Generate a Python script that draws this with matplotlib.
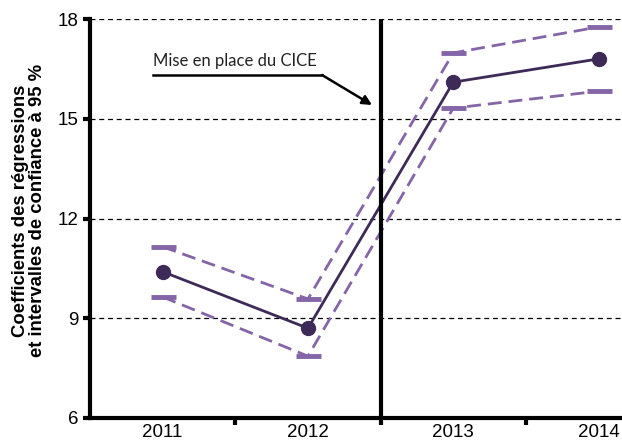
import matplotlib
matplotlib.use("Agg")
from matplotlib import pyplot as plt

# data
years = ["2011", "2012", "2013", "2014"]
coef = [10.4, 8.7, 16.1, 16.8]
ci_high = [11.15, 9.58, 16.98, 17.76]
ci_low = [9.64, 7.86, 15.32, 15.83]
cice_label = "Mise en place du CICE"

dark = "#3d2a57"
light = "#8466a8"

fig = plt.figure(figsize=(6.22, 4.46), dpi=100)
ax = fig.add_axes([90 / 622, 28 / 446, 532 / 622, 399 / 446])

x = list(range(len(years)))

# grid lines
for v in [9, 12, 15, 18]:
    ax.axhline(v, color="black", lw=0.9, ls=(0, (4, 3)), zorder=0)

# confidence intervals
ax.plot(x, ci_high, color=light, lw=2, ls=(0, (5, 2.5)), zorder=2)
ax.plot(x, ci_low, color=light, lw=2, ls=(0, (5, 2.5)), zorder=2)
ax.plot(x, ci_high, ls="none", marker="_", ms=18, mew=3.5, color=light, zorder=2)
ax.plot(x, ci_low, ls="none", marker="_", ms=18, mew=3.5, color=light, zorder=2)

# coefficients
ax.plot(x, coef, color=dark, lw=2, marker="o", ms=10, zorder=3)

# CICE line
ax.axvline(1.5, color="black", lw=3, zorder=4)

# callout
ax.text(153 / 622, (446 - 61) / 446, cice_label, transform=fig.transFigure,
        fontsize=12, family="Lato", color="#222222", ha="left", va="center")
ax.plot([153 / 622, 322 / 622], [(446 - 75) / 446] * 2, transform=fig.transFigure,
        color="black", lw=1.8, clip_on=False)
ax.annotate("", xy=(372 / 622, (446 - 105) / 446), xycoords="figure fraction",
            xytext=(322 / 622, (446 - 75) / 446), textcoords="figure fraction",
            arrowprops=dict(arrowstyle="-|>", color="black", lw=1.8,
                            mutation_scale=14, shrinkA=0, shrinkB=0))

ax.set_xlim(-0.5, -0.5 + 532 / 145.3)
ax.set_ylim(6, 18)
ax.set_yticks([6, 9, 12, 15, 18])
ax.set_xticks(x)
ax.set_xticklabels(years)
ax.set_xticks([0.5, 1.5, 2.5], minor=True)
ax.tick_params(axis="x", which="major", length=0, pad=4, labelsize=13.5)
ax.tick_params(axis="x", which="minor", length=5, width=3, direction="out")
ax.tick_params(axis="y", length=5, width=3, direction="out", pad=3, labelsize=13.5)
for lab in ax.get_xticklabels() + ax.get_yticklabels():
    lab.set_family("Liberation Sans")

ax.spines["top"].set_visible(False)
ax.spines["right"].set_visible(False)
ax.spines["left"].set_linewidth(3)
ax.spines["bottom"].set_linewidth(3)

ax.set_ylabel("Coefficients des régressions\net intervalles de confiance à 95 %",
              fontsize=13.3, fontweight="bold", family="Liberation Sans",
              linespacing=1.0)
ax.yaxis.set_label_coords(-44 / 532, 0.52)

fig.savefig("out.png", dpi=100)
